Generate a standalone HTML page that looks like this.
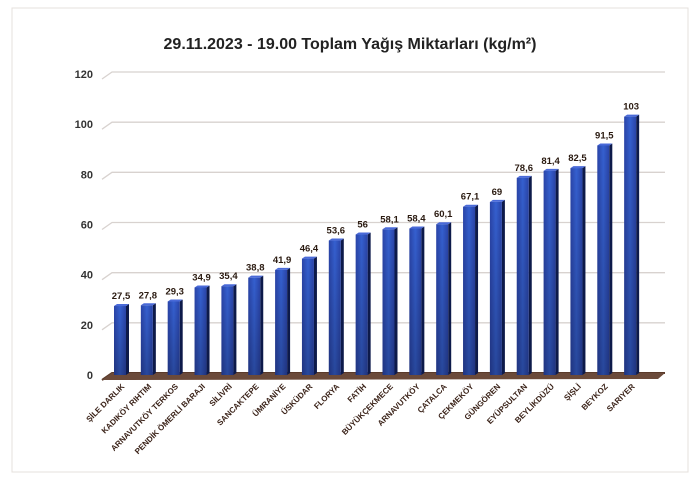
<!DOCTYPE html>
<html><head><meta charset="utf-8"><style>
body{margin:0;background:#fff;width:700px;height:480px;overflow:hidden;font-family:"Liberation Sans",sans-serif}
</style></head><body>
<svg id="c" width="700" height="480">
<defs>
<linearGradient id="bg" x1="0" x2="1"><stop offset="0" stop-color="#2a44a8"/><stop offset="0.5" stop-color="#3560d0"/><stop offset="1" stop-color="#2a44a8"/></linearGradient>
<linearGradient id="bv" x1="0" y1="0" x2="0" y2="1"><stop offset="0" stop-color="#000" stop-opacity="0"/><stop offset="1" stop-color="#000" stop-opacity="0.25"/></linearGradient>
</defs>
<rect x="12" y="8" width="676" height="464" fill="none" stroke="#e6e0dc" stroke-width="1"/>
<text x="350" y="49" text-anchor="middle" font-size="16" font-weight="bold" fill="#222">29.11.2023 - 19.00 Toplam Yağış Miktarları (kg/m²)</text>
<g id="grid"></g><g id="bars"></g><g id="labels"></g>
</svg>
<script>
const categories=["ŞİLE DARLIK","KADIKÖY RIHTIM","ARNAVUTKÖY TERKOS","PENDİK ÖMERLİ BARAJI","SİLİVRİ","SANCAKTEPE","ÜMRANİYE","ÜSKÜDAR","FLORYA","FATİH","BÜYÜKÇEKMECE","ARNAVUTKÖY","ÇATALCA","ÇEKMEKÖY","GÜNGÖREN","EYÜPSULTAN","BEYLİKDÜZÜ","ŞİŞLİ","BEYKOZ","SARIYER"];
const values=[27.5,27.8,29.3,34.9,35.4,38.8,41.9,46.4,53.6,56,58.1,58.4,60.1,67.1,69,78.6,81.4,82.5,91.5,103];
const valueLabels=["27,5","27,8","29,3","34,9","35,4","38,8","41,9","46,4","53,6","56","58,1","58,4","60,1","67,1","69","78,6","81,4","82,5","91,5","103"];
const ticks=[0,20,40,60,80,100,120];
const NS="http://www.w3.org/2000/svg";
const y0=375,yMax=74,vMax=120;
const y=v=>y0-(y0-yMax)*v/vMax;
const x=i=>120+i*26.85;
function mk(t,a,p){const e=document.createElementNS(NS,t);for(const k in a)e.setAttribute(k,a[k]);p.appendChild(e);return e;}
const G=document.getElementById('grid'),B=document.getElementById('bars'),L=document.getElementById('labels');
ticks.forEach(t=>{
 const yy=y(t);
 const l=mk('polyline',{points:`102,${yy+5} 112,${yy-2} 665,${yy-2}`,fill:'none',stroke:t===0?'#5a3a2a':'#d8d2cf','stroke-width':t===0?2:1.3},G);
 
 
 const tx=mk('text',{x:93,y:yy+4,'text-anchor':'end','font-size':11,'font-weight':'bold',fill:'#333'},G);
 tx.textContent=t;
 
 
});
mk('polygon',{points:`102,${y0+5} 112,${y0-2} 665,${y0-2} 658,${y0+4}`,fill:'#6b4a3a'},G);
values.forEach((v,i)=>{
 const cx=x(i),top=y(v);
 const g=mk('g',{},B);
 
 
 mk('polygon',{points:`${cx+6},${top} ${cx+9},${top-2} ${cx+9},${y0-2} ${cx+6},${y0}`,fill:'#0d1a4a'},g);
 mk('polygon',{points:`${cx-6},${top} ${cx-3},${top-2} ${cx+9},${top-2} ${cx+6},${top}`,fill:'#4a6ad8'},g);
 mk('rect',{x:cx-6,y:top,width:12,height:y0-top,fill:'url(#bg)'},g);
 mk('rect',{x:cx-6,y:top,width:12,height:y0-top,fill:'url(#bv)'},g);
 const vt=mk('text',{x:cx+1,y:top-7,'text-anchor':'middle','font-size':9.5,'font-weight':'bold',fill:'#2a1a10'},B);
 vt.textContent=valueLabels[i];
 
 
 const ct=mk('text',{x:0,y:0,'text-anchor':'end','font-size':8,'font-weight':'bold',fill:'#3a2218',transform:`translate(${cx+5},${y0+12}) rotate(-45)`},L);
 ct.textContent=categories[i];
 
 
});
</script>
</body></html>
